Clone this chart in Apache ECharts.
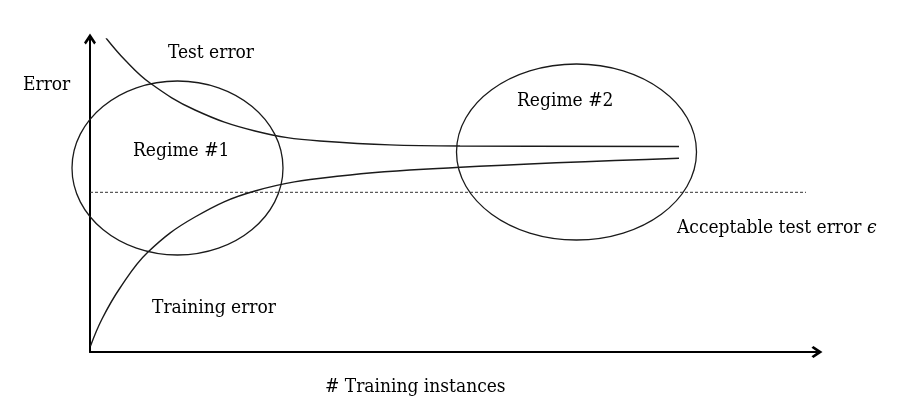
<!DOCTYPE html>
<html>
<head>
<meta charset="utf-8">
<style>html,body{margin:0;padding:0;background:#fff}#c{width:923px;height:419px}</style>
<script src="https://cdn.jsdelivr.net/npm/echarts@6/dist/echarts.min.js"></script>
</head>
<body>
<div id="c"></div>
<script>
// Abstract schematic: x = # training instances, y = error (arbitrary units)
const testErrorX = [16, 35, 60, 105, 165, 230, 370, 589];
const testErrorY = [314, 292, 269, 242, 221, 211, 206, 205.5];
const trainErrorX = [0.5, 12, 30, 58, 105, 165, 250, 366, 589];
const trainErrorY = [6, 33, 64, 100, 135, 161, 176, 184.5, 193.7];
const acceptableX = [0, 716];
const acceptableY = [159.7, 159.7];
// regimes: [centerX, centerY, radiusX, radiusY]
const regimes = [[87.5, 184, 105.5, 87], [486.5, 200, 120, 88]];
const xMax = 727, yMax = 313;

const zip = (a, b) => a.map((v, i) => [v, b[i]]);
const FONT = '"DejaVu Serif Condensed", "Liberation Serif", serif';
const chevron = 'path://M5,0 L10,7.6 L8.5,9.2 L5,4.2 L1.5,9.2 L0,7.6 Z';

const chart = echarts.init(document.getElementById('c'), null, {renderer: 'canvas'});
const lineStyle = {color: '#1a1a1a', width: 1.4};
const axisCommon = {
  axisLabel: {show: false}, axisTick: {show: false}, splitLine: {show: false},
  axisLine: {show: true, symbol: ['none', chevron], symbolSize: [14, 11], lineStyle: {color: '#000', width: 2}}
};
function txt(x, y, s) {
  return {type: 'text', x: x, y: y, style: {text: s, font: '19px ' + FONT, fill: '#000', verticalAlign: 'middle', align: 'left'}};
}
chart.setOption({
  animation: false,
  grid: {left: 90, top: 39, right: 106, bottom: 67},
  xAxis: Object.assign({type: 'value', min: 0, max: xMax}, axisCommon),
  yAxis: Object.assign({type: 'value', min: 0, max: yMax}, axisCommon),
  series: [
    {type: 'line', data: zip(testErrorX, testErrorY), smooth: 0.4, symbol: 'none', lineStyle: lineStyle, z: 3},
    {type: 'line', data: zip(trainErrorX, trainErrorY), smooth: 0.4, symbol: 'none', lineStyle: lineStyle, z: 3},
    {type: 'line', data: zip(acceptableX, acceptableY), symbol: 'none', lineStyle: {color: '#333', width: 1, type: [3, 2]}, z: 2},
    {type: 'custom', data: regimes, clip: false, z: 4,
      renderItem: function (params, api) {
        const c = api.coord([api.value(0), api.value(1)]);
        const s = api.size([api.value(2), api.value(3)]);
        return {type: 'ellipse', shape: {cx: c[0], cy: c[1], rx: s[0], ry: s[1]},
          style: {fill: 'none', stroke: '#1a1a1a', lineWidth: 1.3}};
      }}
  ],
  graphic: [
    txt(23, 85, 'Error'),
    txt(168, 53, 'Test error'),
    txt(133, 151, 'Regime #1'),
    txt(517, 101, 'Regime #2'),
    {type: 'text', x: 677, y: 228, style: {
      text: '{a|Acceptable test error }{e|ϵ}', verticalAlign: 'middle', align: 'left',
      rich: {a: {font: '19px ' + FONT, fill: '#000'}, e: {font: 'italic 19px ' + FONT, fill: '#000'}}}},
    txt(152, 308, 'Training error'),
    txt(325, 387, '# Training instances')
  ]
});
</script>
</body>
</html>
